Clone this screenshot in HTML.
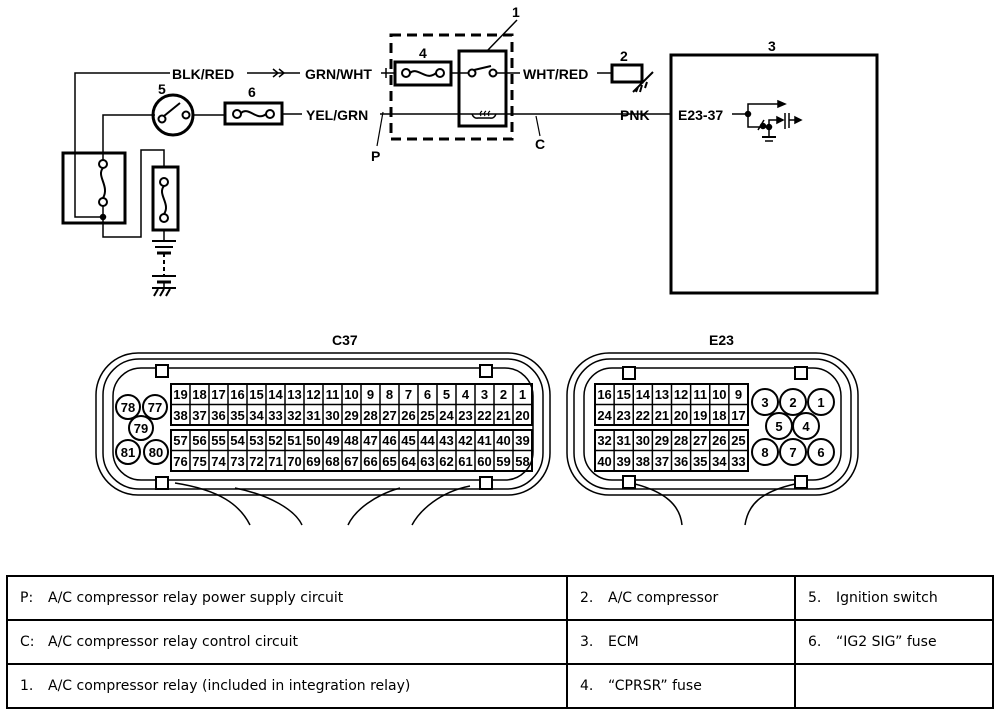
<!DOCTYPE html>
<html><head><meta charset="utf-8"><style>
html,body{margin:0;padding:0;background:#fff;width:1008px;height:712px;overflow:hidden}
svg{position:absolute;left:0;top:0}
.l{font-family:"Liberation Sans",sans-serif;font-weight:bold;font-size:14px;fill:#000;stroke:none}
.n{font-family:"Liberation Sans",sans-serif;font-weight:bold;font-size:13px;fill:#000;text-anchor:middle;stroke:none}
table{position:absolute;left:6px;top:575px;border-collapse:collapse;font-family:"DejaVu Sans","Liberation Sans",sans-serif;font-size:14px}
td{border:2px solid #000;height:42px;padding:0 0 0 12px;white-space:nowrap}
td span{display:inline-block;width:28px}
</style></head><body>
<svg width="1008" height="712" viewBox="0 0 1008 712" fill="none" stroke="#000" stroke-width="1.5">
<polyline points="170,73 75,73 75,217 103,217"/>
<rect x="63" y="153" width="62" height="70" stroke-width="3"/>
<circle cx="103" cy="164" r="4" stroke-width="2"/><circle cx="103" cy="202" r="4" stroke-width="2"/>
<path d="M103,168 C96,176 110,186 103,198" stroke-width="2"/>
<circle cx="103" cy="217" r="2.5" fill="#000"/>
<polyline points="103,160 103,115 155,115"/>
<polyline points="103,206 103,237 141,237 141,150 164,150 164,167"/>
<rect x="153" y="167" width="25" height="63" stroke-width="3"/>
<circle cx="164" cy="182" r="4" stroke-width="2"/><circle cx="164" cy="218" r="4" stroke-width="2"/>
<path d="M164,186 C157,194 171,204 164,214" stroke-width="2"/>
<line x1="164" y1="230" x2="164" y2="241"/>
<line x1="152" y1="241" x2="176" y2="241" stroke-width="2"/>
<line x1="155" y1="247" x2="173" y2="247" stroke-width="2"/>
<line x1="157" y1="253" x2="171" y2="253" stroke-width="3"/>
<line x1="164" y1="253" x2="164" y2="276" stroke-dasharray="4,3" stroke-width="2"/>
<line x1="152" y1="276" x2="176" y2="276" stroke-width="2"/>
<line x1="157" y1="282" x2="171" y2="282" stroke-width="3"/>
<line x1="164" y1="282" x2="164" y2="287"/>
<line x1="152" y1="288" x2="176" y2="288" stroke-width="2"/>
<path d="M158,289 l-4,7 M164,289 l-4,7 M170,289 l-4,7" stroke-width="2"/>
<circle cx="173" cy="115" r="20" stroke-width="3"/>
<circle cx="162" cy="119" r="3.5" stroke-width="2"/><circle cx="186" cy="115" r="3.5" stroke-width="2"/>
<line x1="164" y1="116" x2="180" y2="103" stroke-width="2"/>
<line x1="193" y1="115" x2="225" y2="115"/>
<text class="l" x="158" y="94">5</text>
<rect x="225" y="103" width="57" height="21" stroke-width="3"/>
<circle cx="237" cy="114" r="4" stroke-width="2"/><circle cx="270" cy="114" r="4" stroke-width="2"/>
<path d="M241,113 C249,106 257,122 266,114" stroke-width="2"/>
<text class="l" x="248" y="97">6</text>
<line x1="282" y1="114" x2="302" y2="114"/>
<text class="l" x="306" y="120">YEL/GRN</text>
<line x1="380" y1="114" x2="670" y2="114"/>
<line x1="383" y1="112" x2="377" y2="146" stroke-width="1.2"/>
<text class="l" x="371" y="161">P</text>
<line x1="536" y1="116" x2="540" y2="136" stroke-width="1.2"/>
<text class="l" x="535" y="149">C</text>
<text class="l" x="172" y="79">BLK/RED</text>
<line x1="247" y1="73" x2="300" y2="73"/>
<path d="M273,69 l5,4 l-5,4 M279,69 l5,4 l-5,4" stroke-width="1.5"/>
<text class="l" x="305" y="79">GRN/WHT</text>
<line x1="381" y1="73" x2="395" y2="73"/>
<line x1="386" y1="68" x2="386" y2="78"/>
<rect x="395" y="62" width="56" height="23" stroke-width="3"/>
<circle cx="406" cy="73" r="4" stroke-width="2"/><circle cx="440" cy="73" r="4" stroke-width="2"/>
<path d="M410,73 C418,66 426,82 436,73" stroke-width="2"/>
<text class="l" x="419" y="58">4</text>
<line x1="451" y1="73" x2="468" y2="73"/>
<rect x="391" y="35" width="121" height="104" stroke-width="3" stroke-dasharray="10,6"/>
<rect x="459" y="51" width="47" height="75" stroke-width="3"/>
<circle cx="472" cy="73" r="3.5" stroke-width="2"/><circle cx="493" cy="73" r="3.5" stroke-width="2"/>
<line x1="474" y1="70" x2="491" y2="66" stroke-width="2"/>
<line x1="496" y1="73" x2="520" y2="73"/>
<path d="M472,114 q2,5 6,4 h12 q4,1 6,-4" stroke-width="1.5"/>
<path d="M481,116 q-2,-3 1,-5 M485,116 q-2,-3 1,-5 M489,116 q-2,-3 1,-5" stroke-width="1.2"/>
<line x1="517" y1="20" x2="487" y2="51"/>
<text class="l" x="512" y="17">1</text>
<text class="l" x="523" y="79">WHT/RED</text>
<line x1="597" y1="73" x2="612" y2="73"/>
<rect x="612" y="65" width="30" height="17" stroke-width="3"/>
<text class="l" x="620" y="61">2</text>
<path d="M633,92 l20,-20 M636,92 l2,-5 M640,92 l2,-7 M645,88 l2,-6" stroke-width="2"/>
<text class="l" x="620" y="120">PNK</text>
<rect x="671" y="55" width="206" height="238" stroke-width="3"/>
<text class="l" x="768" y="51">3</text>
<text class="l" x="678" y="120">E23-37</text>
<line x1="732" y1="114" x2="748" y2="114"/>
<circle cx="748" cy="114" r="2.5" fill="#000"/>
<polyline points="748,114 748,104 780,104"/><path d="M778,101 l7,3 l-7,3z" fill="#000"/>
<polyline points="748,114 748,127 770,127"/>
<circle cx="763" cy="126" r="2.5" fill="#000"/>
<line x1="758" y1="130" x2="764" y2="120" stroke-width="1.5"/>
<circle cx="769" cy="127" r="2.5" fill="#000"/>
<polyline points="769,127 769,120 779,120"/><path d="M777,117 l6,3 l-6,3z" fill="#000"/>
<line x1="785" y1="113" x2="785" y2="129" stroke-width="1.5"/><line x1="789" y1="113" x2="789" y2="128"/>
<line x1="789" y1="120" x2="797" y2="120"/><path d="M795,117 l6,3 l-6,3z" fill="#000"/>
<line x1="769" y1="127" x2="769" y2="137"/>
<line x1="762" y1="137" x2="776" y2="137" stroke-width="2"/><line x1="765" y1="141" x2="773" y2="141"/>
<text class="l" x="332" y="345">C37</text>
<rect x="96" y="353" width="454" height="142" rx="42" stroke-width="1.5"/>
<rect x="103" y="359" width="440" height="130" rx="36" stroke-width="1.5"/>
<rect x="113" y="368" width="420" height="112" rx="28" stroke-width="1.5"/>
<rect x="156" y="365" width="12" height="12" fill="#fff" stroke-width="2"/>
<rect x="480" y="365" width="12" height="12" fill="#fff" stroke-width="2"/>
<rect x="156" y="477" width="12" height="12" fill="#fff" stroke-width="2"/>
<rect x="480" y="477" width="12" height="12" fill="#fff" stroke-width="2"/>
<path d="M175,483 C220,490 240,505 250,525 M235,488 C270,495 295,510 302,525 M400,488 C375,495 355,510 348,525 M470,486 C440,492 420,510 412,525" stroke-width="1.5"/>
<g id="c37"></g>
<text class="l" x="709" y="345">E23</text>
<rect x="567" y="353" width="291" height="142" rx="42" stroke-width="1.5"/>
<rect x="574" y="359" width="277" height="130" rx="36" stroke-width="1.5"/>
<rect x="584" y="368" width="257" height="112" rx="28" stroke-width="1.5"/>
<rect x="623" y="367" width="12" height="12" fill="#fff" stroke-width="2"/>
<rect x="795" y="367" width="12" height="12" fill="#fff" stroke-width="2"/>
<rect x="623" y="476" width="12" height="12" fill="#fff" stroke-width="2"/>
<rect x="795" y="476" width="12" height="12" fill="#fff" stroke-width="2"/>
<path d="M635,484 C665,492 680,505 682,525 M795,484 C760,492 748,505 745,525" stroke-width="1.5"/>
<g id="e23"></g>
</svg>
<table>
<tr><td style="width:546px"><span>P:</span>A/C compressor relay power supply circuit</td><td style="width:214px"><span>2.</span>A/C compressor</td><td style="width:184px"><span>5.</span>Ignition switch</td></tr>
<tr><td><span>C:</span>A/C compressor relay control circuit</td><td><span>3.</span>ECM</td><td><span>6.</span>“IG2 SIG” fuse</td></tr>
<tr><td><span>1.</span>A/C compressor relay (included in integration relay)</td><td><span>4.</span>“CPRSR” fuse</td><td></td></tr>
</table>
<script>
var NS="http://www.w3.org/2000/svg";
function el(p,t,a,txt){var e=document.createElementNS(NS,t);for(var k in a)e.setAttribute(k,a[k]);if(txt!==undefined)e.textContent=txt;p.appendChild(e);return e;}
function grid(g,x0,x1,y0,nc,rows){var w=(x1-x0)/nc;
 rows.forEach(function(r,ri){var y=y0[ri];
  el(g,'rect',{x:x0,y:y,width:x1-x0,height:41,'stroke-width':2});
  el(g,'line',{x1:x0,y1:y+20.5,x2:x1,y2:y+20.5,'stroke-width':1.5});
  for(var c=1;c<nc;c++)el(g,'line',{x1:x0+c*w,y1:y,x2:x0+c*w,y2:y+41,'stroke-width':1.5});
  for(var c=0;c<nc;c++){el(g,'text',{'class':'n',x:x0+c*w+w/2,y:y+15,stroke:'none'},r[0]-c);el(g,'text',{'class':'n',x:x0+c*w+w/2,y:y+36,stroke:'none'},r[1]-c);}
 });}
var g=document.getElementById('c37');
grid(g,171,532,[384,430],19,[[19,38],[57,76]]);
[[128,407,78],[155,407,77],[141,428,79],[128,452,81],[156,452,80]].forEach(function(c){el(g,'circle',{cx:c[0],cy:c[1],r:12,'stroke-width':2,fill:'#fff'});el(g,'text',{'class':'n',x:c[0],y:c[1]+5,stroke:'none'},c[2]);});
var h=document.getElementById('e23');
grid(h,595,748,[384,430],8,[[16,24],[32,40]]);
[[765,402,3],[793,402,2],[821,402,1],[779,426,5],[806,426,4],[765,452,8],[793,452,7],[821,452,6]].forEach(function(c){el(h,'circle',{cx:c[0],cy:c[1],r:13,'stroke-width':2,fill:'#fff'});el(h,'text',{'class':'n',x:c[0],y:c[1]+5,stroke:'none'},c[2]);});
</script>
</body></html>
